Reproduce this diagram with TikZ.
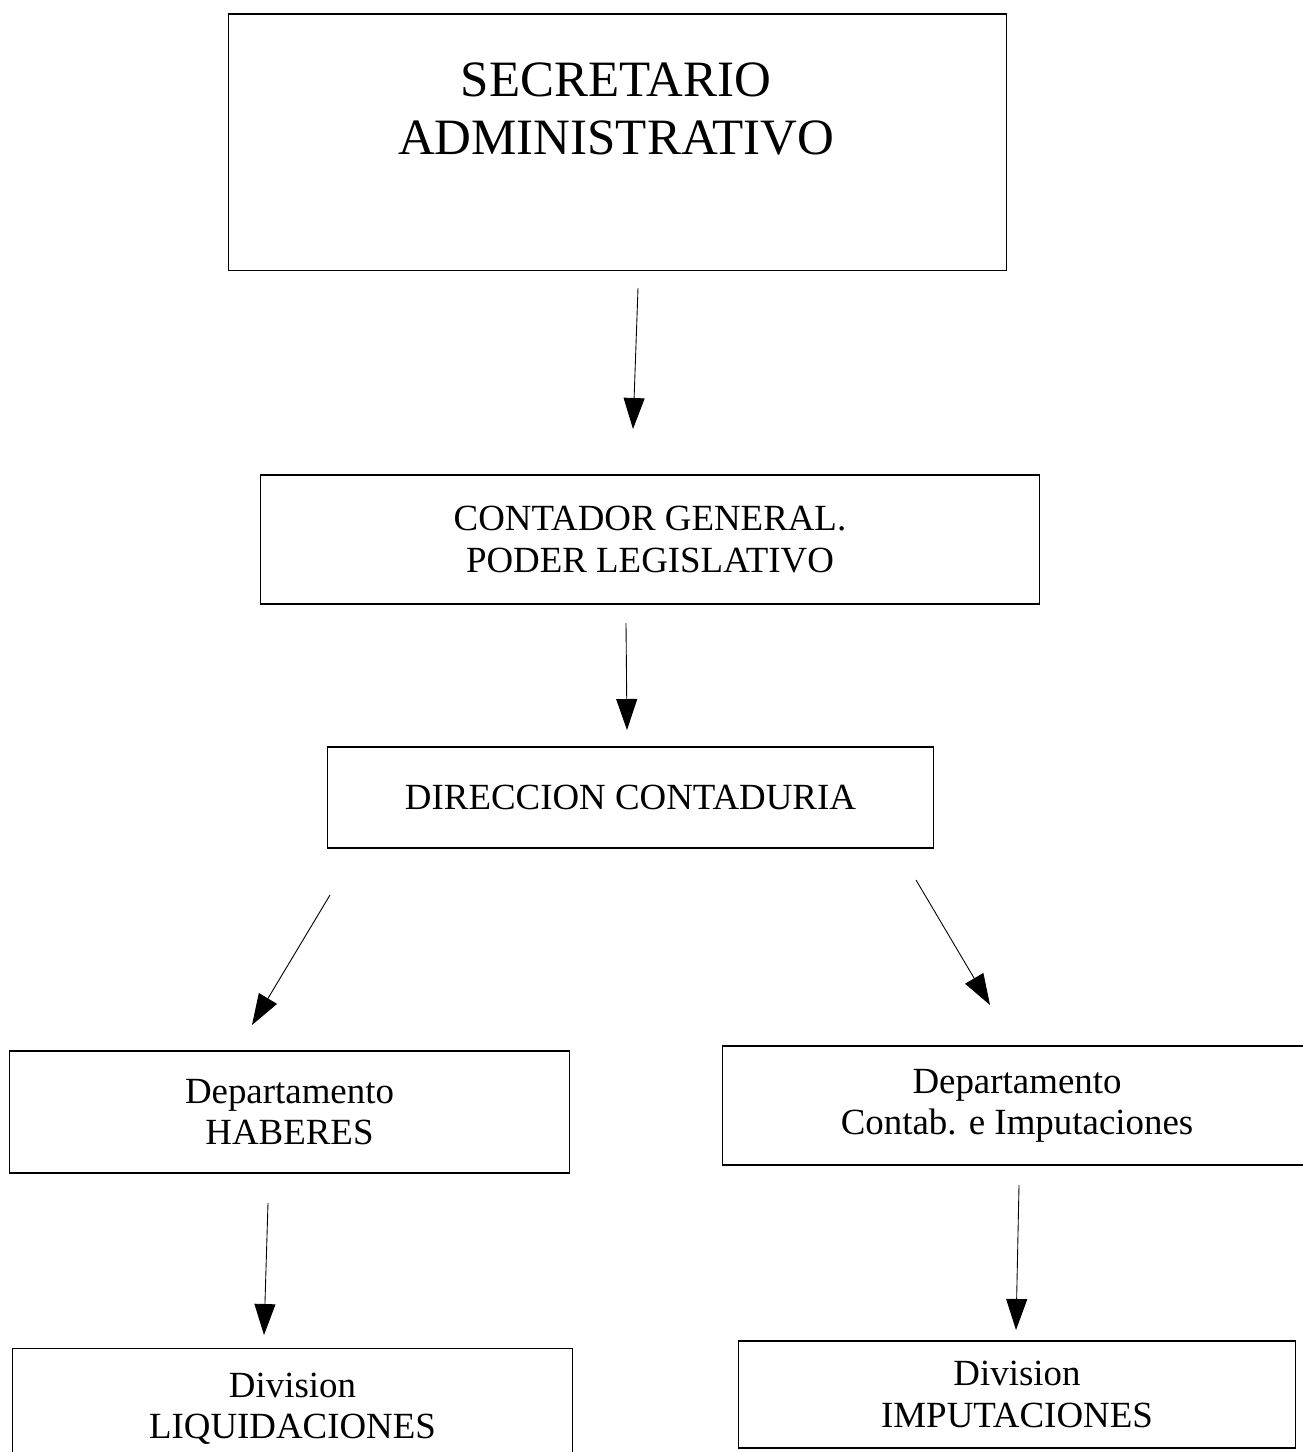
\documentclass[tikz,border=0pt]{standalone}
\usepackage{fontspec}
\setmainfont{Liberation Serif}
\usetikzlibrary{arrows.meta,positioning}

\begin{document}
\begin{tikzpicture}[
    x=0.02cm, y=-0.02cm,
    box/.style={rectangle, draw, line width=0.6pt, inner sep=0pt, align=center, font=\fontsize{21pt}{23.5pt}\selectfont},
    bigtext/.style={align=center, inner sep=0pt, font=\fontsize{29pt}{33pt}\selectfont},
    arrow/.style={-{Triangle[length=6.2mm, width=4.2mm]}, line width=0.5pt}
]
\useasboundingbox (0,0) rectangle (1302,1452);

% Top level
\node[box, minimum width=15.58cm, minimum height=5.14cm] (sec) at (617.5,142.5) {};
\node[bigtext] (sectxt) at (616,109) {SECRETARIO\\ADMINISTRATIVO};

% Second and third level
\node[box, minimum width=15.6cm, minimum height=2.58cm] (cont) at (650,539.5) {CONTADOR GENERAL.\\PODER LEGISLATIVO};
\node[box, minimum width=12.14cm, minimum height=2.02cm] (dir) at (630.5,797.5) {DIRECCION CONTADURIA};

% Departments
\node[box, minimum width=11.22cm, minimum height=2.44cm] (haberes) at (289.5,1112) {Departamento\\HABERES};
\node[box, minimum width=11.8cm, minimum height=2.38cm] (contab) at (1017,1105.5) {Departamento\\Contab. e Imputaciones};

% Divisions
\node[box, minimum width=11.22cm, minimum height=2.44cm] (liq) at (292.5,1409) {Division\\LIQUIDACIONES};
\node[box, minimum width=11.16cm, minimum height=2.14cm] (imput) at (1017,1394.5) {Division\\IMPUTACIONES};

% Arrow ends
\coordinate (secout) at (638,288);
\coordinate (contin) at (633,429);
\coordinate (contout) at (626,623);
\coordinate (dirin) at (627,730);
\coordinate (dirleft) at (330,895);
\coordinate (haberesin) at (252,1025);
\coordinate (dirright) at (916,880);
\coordinate (contabin) at (990,1005);
\coordinate (haberesout) at (268,1203);
\coordinate (liqin) at (264,1335);
\coordinate (contabout) at (1019,1185);
\coordinate (imputin) at (1016,1330);

\draw[arrow] (secout) -- (contin);
\draw[arrow] (contout) -- (dirin);
\draw[arrow] (dirleft) -- (haberesin);
\draw[arrow] (dirright) -- (contabin);
\draw[arrow] (haberesout) -- (liqin);
\draw[arrow] (contabout) -- (imputin);
\end{tikzpicture}
\end{document}
